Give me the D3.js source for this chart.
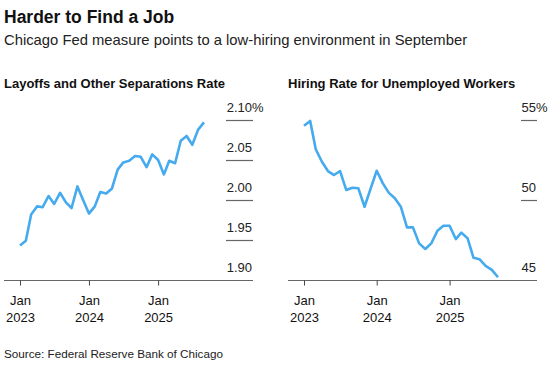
<!DOCTYPE html>
<html>
<head>
<meta charset="utf-8">
<script src="https://cdn.jsdelivr.net/npm/d3@7"></script>
<style>
  body { margin: 0; background: #fff; }
  svg { display: block; font-family: "Liberation Sans", Arial, sans-serif; }
  .domain { stroke: #666; }
</style>
</head>
<body>
<div id="chart"></div>
<script>
// monthly values, Jan 2023 .. Sep 2025
const months = d3.timeMonth.range(new Date(2023, 0, 1), new Date(2025, 9, 1));

const layoffsRate = [
  1.943, 1.949, 1.982, 1.992, 1.991, 2.005, 1.995, 2.009, 1.997, 1.990, 2.017, 2.000,
  1.983, 1.992, 2.010, 2.008, 2.014, 2.038, 2.047, 2.049, 2.055, 2.054, 2.041, 2.057,
  2.050, 2.032, 2.049, 2.046, 2.074, 2.080, 2.069, 2.088, 2.097
];

const hiringRate = [
  54.64, 54.94, 53.17, 52.39, 51.81, 51.56, 51.81, 50.63, 50.77, 50.73, 49.58, 50.69,
  51.83, 51.04, 50.46, 50.11, 49.58, 48.29, 48.29, 47.29, 46.94, 47.29, 48.08, 48.39,
  48.39, 47.56, 47.96, 47.61, 46.39, 46.29, 45.88, 45.63, 45.17
];

const layoffsTicks = [1.90, 1.95, 2.00, 2.05, 2.10];
const hiringTicks = [45, 50, 55];
const xTickDates = [new Date(2023, 0, 1), new Date(2024, 0, 1), new Date(2025, 0, 1)];

const W = 558, H = 371;
const lineColor = "#45aaee";

const svg = d3.select("#chart").append("svg")
    .attr("width", W)
    .attr("height", H);

// titles
svg.append("text").attr("x", 4).attr("y", 23)
    .style("font-size", "17.5px").style("font-weight", "bold").attr("fill", "#111")
    .text("Harder to Find a Job");
svg.append("text").attr("x", 4).attr("y", 45)
    .style("font-size", "14.8px").attr("fill", "#222")
    .text("Chicago Fed measure points to a low-hiring environment in September");
svg.append("text").attr("x", 4).attr("y", 358)
    .style("font-size", "11.7px").attr("fill", "#222")
    .text("Source: Federal Reserve Bank of Chicago");

/**
 * draw one panel
 */
function drawPanel(opts) {
    const g = svg.append("g");

    g.append("text").attr("x", opts.left).attr("y", 88)
        .style("font-size", "13px").style("font-weight", "bold").attr("fill", "#111")
        .text(opts.title);

    const x = d3.scaleTime()
        .domain(d3.extent(months))
        .range(opts.xRange);

    const y = d3.scaleLinear()
        .domain(opts.yDomain)
        .range([280, 120]);

    // short gridlines + labels on the right
    opts.ticks.forEach(function (t, i) {
        if (t !== opts.yDomain[0]) {
            g.append("line")
                .attr("x1", opts.gridX[0]).attr("x2", opts.gridX[1])
                .attr("y1", Math.round(y(t)) + 0.5).attr("y2", Math.round(y(t)) + 0.5)
                .attr("stroke", "#666").attr("stroke-width", 1.2);
        }
        g.append("text")
            .attr("x", opts.labelX).attr("y", y(t) - 8)
            .attr("text-anchor", "end")
            .style("font-size", "13px").attr("fill", "#222")
            .text(opts.fmt(t));
        if (i === opts.ticks.length - 1) {
            g.append("text")
                .attr("x", opts.labelX).attr("y", y(t) - 8)
                .style("font-size", "13px").attr("fill", "#222")
                .text("%");
        }
    });

    // x axis
    const axis = g.append("g")
        .attr("transform", "translate(0,280.5)")
        .call(d3.axisBottom(x).tickValues(xTickDates).tickSize(5).tickFormat(""));
    axis.select(".domain").attr("d", "M" + opts.axisX[0] + ",0H" + opts.axisX[1]).attr("stroke", "#666").attr("stroke-width", 1.2);
    axis.selectAll(".tick line").attr("stroke", "#444");
    axis.selectAll(".tick").append("text")
        .attr("fill", "#111").style("font-size", "13px").attr("text-anchor", "middle")
        .each(function (d) {
            const t = d3.select(this);
            t.append("tspan").attr("x", 0).attr("y", 24).text("Jan");
            t.append("tspan").attr("x", 0).attr("y", 41).text(d.getFullYear());
        });

    const line = d3.line()
        .x(function (d, i) { return x(months[i]); })
        .y(function (d) { return y(d); });

    g.append("path")
        .datum(opts.data)
        .attr("fill", "none")
        .attr("stroke", lineColor)
        .attr("stroke-width", 2.6)
        .attr("stroke-linejoin", "round")
        .attr("d", line);
}

drawPanel({
    title: "Layoffs and Other Separations Rate",
    left: 4,
    data: layoffsRate,
    xRange: [20, 204],
    yDomain: [1.90, 2.10],
    ticks: layoffsTicks,
    fmt: d3.format(".2f"),
    gridX: [226, 253],
    labelX: 252,
    axisX: [4, 253]
});

drawPanel({
    title: "Hiring Rate for Unemployed Workers",
    left: 288,
    data: hiringRate,
    xRange: [304, 498],
    yDomain: [45, 55],
    ticks: hiringTicks,
    fmt: d3.format("d"),
    gridX: [521, 537],
    labelX: 536,
    axisX: [288, 537]
});
</script>
</body>
</html>
